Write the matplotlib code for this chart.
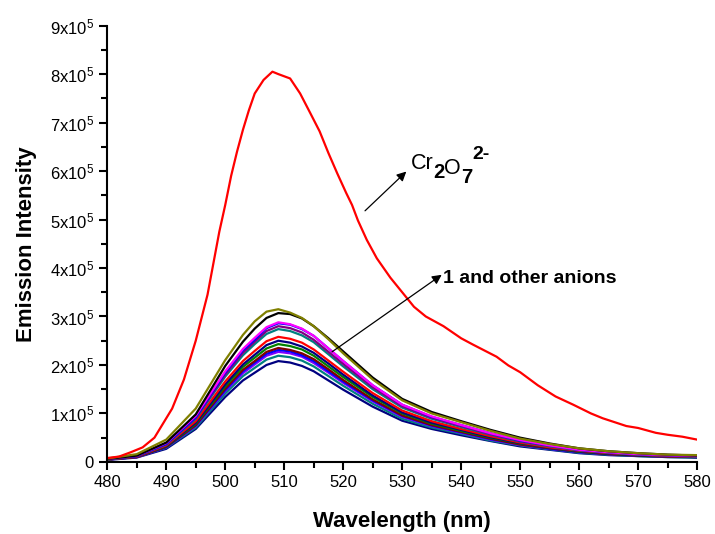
import matplotlib
matplotlib.use("Agg")
import matplotlib.pyplot as plt
from matplotlib.ticker import MultipleLocator, FuncFormatter

plt.rcParams['font.family'] = ['Liberation Sans', 'DejaVu Sans']
plt.rcParams['mathtext.fontset'] = 'custom'
plt.rcParams['mathtext.rm'] = 'Liberation Sans'
plt.rcParams['mathtext.default'] = 'regular'

# Cr2O7(2-) spectrum (intensity in units of 1e5)
wl_cr = [480, 482, 484, 486, 488, 490, 491, 493, 495, 497, 498, 499, 500, 501,
         502, 503, 504, 505, 506.5, 508, 509, 511, 512.7, 514.4, 516, 517.5,
         519, 520.5, 521.5, 522.5, 524, 525.7, 528, 530, 532, 534, 537, 540,
         542, 546, 548, 550, 553, 556, 559, 562, 564, 566, 568, 570, 573, 575,
         577.5, 580]
int_cr = [0.08, 0.11, 0.2, 0.3, 0.5, 0.9, 1.1, 1.7, 2.5, 3.45, 4.1, 4.75, 5.3,
          5.9, 6.4, 6.85, 7.25, 7.6, 7.88, 8.05, 8.0, 7.91, 7.6, 7.2, 6.82,
          6.37, 5.95, 5.55, 5.3, 4.98, 4.58, 4.2, 3.8, 3.5, 3.2, 3.0, 2.8,
          2.55, 2.42, 2.17, 1.99, 1.85, 1.58, 1.35, 1.18, 1.0, 0.9, 0.82, 0.74,
          0.7, 0.6, 0.56, 0.52, 0.46]

# compound 1 and the other anions
wl = [480, 485, 490, 495, 500, 503, 505, 507, 509, 511, 513, 515, 517.5, 520,
      525, 530, 535, 540, 545, 550, 555, 560, 565, 570, 575, 580]
olive = [0.07, 0.16, 0.46, 1.1, 2.1, 2.62, 2.9, 3.1, 3.15, 3.08, 2.97, 2.8,
         2.53, 2.24, 1.7, 1.27, 1.0, 0.82, 0.64, 0.48, 0.37, 0.28, 0.22, 0.18,
         0.15, 0.14]
black = [0.06, 0.13, 0.40, 0.98, 1.98, 2.48, 2.75, 2.97, 3.07, 3.05, 2.96, 2.8,
         2.55, 2.28, 1.74, 1.3, 1.03, 0.84, 0.66, 0.5, 0.38, 0.28, 0.22, 0.18,
         0.15, 0.13]
magenta = [0.06, 0.13, 0.39, 0.95, 1.87, 2.33, 2.56, 2.78, 2.88, 2.84, 2.75,
           2.6, 2.34, 2.08, 1.58, 1.18, 0.94, 0.76, 0.59, 0.45, 0.34, 0.25,
           0.2, 0.16, 0.14, 0.12]
blue = [0.06, 0.12, 0.37, 0.92, 1.84, 2.3, 2.52, 2.76, 2.86, 2.83, 2.74, 2.6,
        2.34, 2.08, 1.58, 1.18, 0.93, 0.76, 0.59, 0.44, 0.34, 0.25, 0.2, 0.16,
        0.14, 0.12]
purple = [0.06, 0.12, 0.37, 0.91, 1.8, 2.25, 2.48, 2.7, 2.8, 2.76, 2.67, 2.52,
          2.27, 2.02, 1.54, 1.15, 0.91, 0.74, 0.57, 0.43, 0.33, 0.25, 0.2,
          0.16, 0.13, 0.12]
cyan1 = [0.05, 0.12, 0.36, 0.89, 1.76, 2.2, 2.43, 2.64, 2.74, 2.7, 2.61, 2.47,
         2.22, 1.97, 1.5, 1.12, 0.89, 0.72, 0.56, 0.42, 0.32, 0.24, 0.19,
         0.15, 0.13, 0.11]
red = [0.05, 0.11, 0.34, 0.84, 1.66, 2.08, 2.29, 2.49, 2.58, 2.54, 2.46, 2.32,
       2.09, 1.86, 1.42, 1.06, 0.84, 0.68, 0.53, 0.4, 0.3, 0.23, 0.18, 0.15,
       0.12, 0.11]
navy1 = [0.05, 0.11, 0.33, 0.81, 1.6, 2.01, 2.21, 2.41, 2.5, 2.46, 2.38, 2.25,
         2.03, 1.8, 1.37, 1.02, 0.81, 0.66, 0.51, 0.39, 0.29, 0.22, 0.17,
         0.14, 0.12, 0.1]
green = [0.05, 0.11, 0.32, 0.79, 1.56, 1.96, 2.15, 2.34, 2.43, 2.39, 2.32,
         2.19, 1.97, 1.75, 1.34, 1.0, 0.79, 0.64, 0.5, 0.38, 0.29, 0.21, 0.17,
         0.14, 0.12, 0.1]
wine = [0.05, 0.1, 0.31, 0.76, 1.51, 1.9, 2.08, 2.27, 2.35, 2.31, 2.24, 2.12,
        1.91, 1.69, 1.29, 0.96, 0.76, 0.62, 0.48, 0.36, 0.28, 0.21, 0.16,
        0.13, 0.11, 0.1]
blue2 = [0.05, 0.1, 0.3, 0.75, 1.48, 1.87, 2.05, 2.23, 2.31, 2.28, 2.2, 2.08,
         1.87, 1.66, 1.27, 0.95, 0.75, 0.61, 0.47, 0.36, 0.27, 0.2, 0.16,
         0.13, 0.11, 0.1]
violet = [0.05, 0.1, 0.3, 0.74, 1.46, 1.83, 2.01, 2.19, 2.27, 2.24, 2.17,
          2.04, 1.84, 1.63, 1.25, 0.93, 0.74, 0.6, 0.46, 0.35, 0.27, 0.2,
          0.16, 0.13, 0.11, 0.1]
cyan2 = [0.05, 0.1, 0.29, 0.71, 1.41, 1.77, 1.94, 2.11, 2.19, 2.16, 2.09,
         1.97, 1.77, 1.57, 1.2, 0.89, 0.71, 0.58, 0.44, 0.34, 0.26, 0.19,
         0.15, 0.12, 0.1, 0.09]
navy2 = [0.04, 0.09, 0.27, 0.68, 1.34, 1.68, 1.84, 2.0, 2.08, 2.05, 1.98,
         1.87, 1.68, 1.49, 1.14, 0.85, 0.68, 0.55, 0.43, 0.32, 0.25, 0.18,
         0.14, 0.12, 0.1, 0.09]

others = [
    (navy2, '#000080'), (cyan2, '#008080'), (violet, '#8000FF'),
    (blue2, '#0000FF'), (wine, '#800000'), (green, '#008000'),
    (navy1, '#000080'), (red, '#FF0000'), (cyan1, '#008080'),
    (purple, '#800080'), (blue, '#0000FF'), (magenta, '#FF00FF'),
    (black, '#000000'), (olive, '#808000'),
]

fig = plt.figure(figsize=(7.15, 5.34), dpi=100)
ax = fig.add_axes([0.150, 0.135, 0.825, 0.817])

for vals, col in others:
    ax.plot(wl, [v * 1e5 for v in vals], color=col, lw=1.6)
ax.plot(wl_cr, [v * 1e5 for v in int_cr], color='#FF0000', lw=1.6)

ax.set_xlim(480, 580)
ax.set_ylim(0, 9e5)
ax.xaxis.set_major_locator(MultipleLocator(10))
ax.xaxis.set_minor_locator(MultipleLocator(5))
ax.yaxis.set_major_locator(MultipleLocator(1e5))
ax.yaxis.set_minor_locator(MultipleLocator(0.5e5))
ax.yaxis.set_major_formatter(FuncFormatter(
    lambda v, p: '0' if v == 0 else '%dx$10^{5}$' % round(v / 1e5)))

for s in ['top', 'right']:
    ax.spines[s].set_visible(False)
for s in ['left', 'bottom']:
    ax.spines[s].set_linewidth(1.5)
ax.tick_params(which='major', length=6, width=1.5, labelsize=12, direction='out')
ax.tick_params(which='minor', length=4, width=1.5, direction='out')

ax.set_xlabel('Wavelength (nm)', fontsize=16, fontweight='bold', labelpad=15)
ax.set_ylabel('Emission Intensity', fontsize=16, fontweight='bold', labelpad=9)

# arrows and labels
ax.annotate('', xy=(530.7, 5.99e5), xytext=(523.7, 5.18e5),
            arrowprops=dict(arrowstyle='-|>', color='black', lw=0.9,
                            mutation_scale=14, shrinkA=0, shrinkB=0))
ax.annotate('', xy=(536.7, 3.86e5), xytext=(518.1, 2.27e5),
            arrowprops=dict(arrowstyle='-|>', color='black', lw=0.9,
                            mutation_scale=14, shrinkA=0, shrinkB=0))
ax.text(536.9, 3.79e5, '1 and other anions', fontsize=14, fontweight='bold',
        va='center', ha='left')

t1 = ax.text(531.4, 6.04e5, 'Cr', fontsize=15.5, va='baseline', ha='left')
t2 = ax.annotate('2', xy=(1, 0), xycoords=t1, xytext=(0, -3),
                 textcoords='offset points', fontsize=14.5, fontweight='bold',
                 va='baseline', ha='left')
t3 = ax.annotate('O', xy=(1, 0), xycoords=t2, xytext=(0, 6),
                 textcoords='offset points', fontsize=15.5,
                 va='baseline', ha='left')
t4 = ax.annotate('7', xy=(1, 0), xycoords=t3, xytext=(0, -3),
                 textcoords='offset points', fontsize=14.5, fontweight='bold',
                 va='baseline', ha='left')
t5 = ax.annotate('2-', xy=(1, 1), xycoords=t4, xytext=(0, 4),
                 textcoords='offset points', fontsize=14, fontweight='bold',
                 va='bottom', ha='left')

fig.savefig('out.png', dpi=100)
